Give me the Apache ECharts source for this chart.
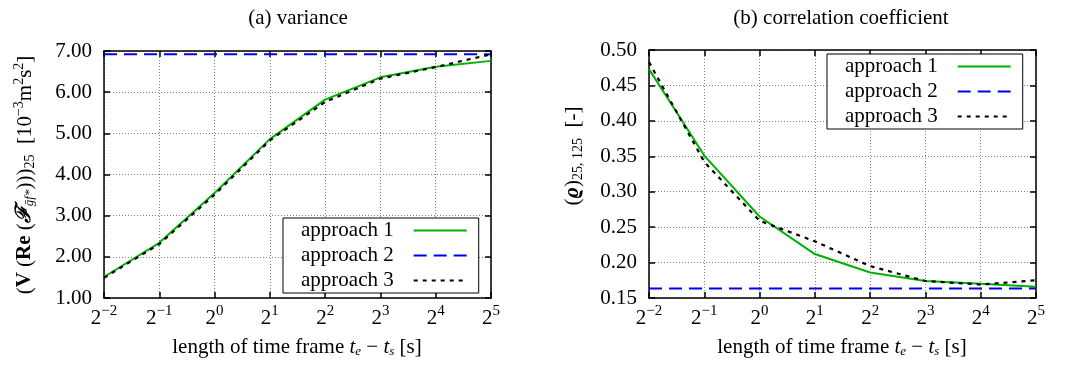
<!DOCTYPE html>
<html>
<head>
<meta charset="utf-8">
<script src="https://cdn.jsdelivr.net/npm/echarts@6/dist/echarts.min.js"></script>
<style>
  html, body { margin: 0; padding: 0; background: #fff; }
  #chart { width: 1070px; height: 365px; }
</style>
</head>
<body>
<div id="chart"></div>
<script>
// Length of the time frame t_e - t_s in seconds (powers of two)
const timeFrame = [0.25, 0.5, 1, 2, 4, 8, 16, 32];
const seriesNames = ['approach 1', 'approach 2', 'approach 3'];

// (a) variance [10^-3 m^2 s^2]
const varianceApproach1 = [1.51, 2.34, 3.55, 4.86, 5.82, 6.36, 6.62, 6.76];
const varianceApproach2 = [6.92, 6.92, 6.92, 6.92, 6.92, 6.92, 6.92, 6.92];
const varianceApproach3 = [1.49, 2.31, 3.51, 4.83, 5.76, 6.33, 6.61, 6.92];

// (b) correlation coefficient [-]
const corrApproach1 = [0.473, 0.351, 0.265, 0.212, 0.186, 0.174, 0.170, 0.166];
const corrApproach2 = [0.1635, 0.1635, 0.1635, 0.1635, 0.1635, 0.1635, 0.1635, 0.1635];
const corrApproach3 = [0.483, 0.342, 0.259, 0.230, 0.195, 0.174, 0.169, 0.175];

// Axis ranges
const varianceRange = { min: 1, max: 7, step: 1 };
const corrRange = { min: 0.15, max: 0.5, step: 0.05 };
const timeRange = { min: 0.25, max: 32 };

const FONT = "'Liberation Serif', 'DejaVu Serif', serif";
const FS = 21;
const GREEN = '#00b000';
const BLUE = '#0000ee';
const BLACK = '#000000';

const chart = echarts.init(document.getElementById('chart'));

const frameLine = { color: '#000', width: 1.5 };
const gridDots = { color: '#808080', width: 1, type: [1, 2] };

const supRich = {
  b: { fontSize: FS, fontFamily: FONT, color: '#000' },
  s: { fontSize: 15, fontFamily: FONT, color: '#000', padding: [0, 0, 14, 0] }
};

function powerLabel(v) {
  const e = Math.round(Math.log2(v));
  return '{b|2}{s|' + (e < 0 ? '\u2212' + (-e) : e) + '}';
}

function xAxes(gridIndex) {
  return [
    {
      gridIndex, type: 'log', logBase: 2, min: timeRange.min, max: timeRange.max,
      axisLine: { show: true, lineStyle: frameLine },
      axisTick: { show: true, inside: true, length: 6, lineStyle: frameLine },
      axisLabel: { formatter: powerLabel, rich: supRich, margin: 6, color: '#000' },
      splitLine: { show: true, lineStyle: gridDots },
      minorTick: { show: false }, minorSplitLine: { show: false }
    },
    {
      gridIndex, type: 'log', logBase: 2, min: timeRange.min, max: timeRange.max, position: 'top',
      axisLine: { show: true, lineStyle: frameLine },
      axisTick: { show: true, inside: true, length: 6, lineStyle: frameLine },
      axisLabel: { show: false }, splitLine: { show: false }
    }
  ];
}

function yAxes(gridIndex, range, digits) {
  return [
    {
      gridIndex, type: 'value', min: range.min, max: range.max, interval: range.step,
      axisLine: { show: true, lineStyle: frameLine },
      axisTick: { show: true, inside: true, length: 6, lineStyle: frameLine },
      axisLabel: { formatter: v => v.toFixed(digits), margin: 12, fontSize: FS, fontFamily: FONT, color: '#000' },
      splitLine: { show: true, lineStyle: gridDots }
    },
    {
      gridIndex, type: 'value', min: range.min, max: range.max, interval: range.step, position: 'right',
      axisLine: { show: true, lineStyle: frameLine },
      axisTick: { show: true, inside: true, length: 6, lineStyle: frameLine },
      axisLabel: { show: false }, splitLine: { show: false }
    }
  ];
}

function lineSeries(name, xIdx, yIdx, values, color, width, type) {
  return {
    type: 'line', name, xAxisIndex: xIdx, yAxisIndex: yIdx,
    data: timeFrame.map((t, i) => [t, values[i]]),
    symbol: 'none', showSymbol: false, color,
    lineStyle: { color, width, type },
    itemStyle: { color },
    emphasis: { disabled: true }
  };
}

function legendBox(left, top) {
  return {
    data: seriesNames, orient: 'vertical', left, top, align: 'right',
    itemWidth: 53, itemHeight: 14, itemGap: 0,
    padding: [0, 11, 0, 18],
    borderColor: '#000', borderWidth: 1, borderRadius: 0, backgroundColor: '#fff',
    // line sample only, no marker on it
    itemStyle: { color: 'rgba(0,0,0,0)', borderWidth: 0, opacity: 0 },
    textStyle: { fontSize: FS, fontFamily: FONT, color: '#000', lineHeight: 25, padding: [0, 15, 0, 0] },
    selectedMode: false
  };
}

const textRich = {
  bf: { fontSize: FS, fontFamily: FONT, fontWeight: 'bold', fill: '#000' },
  bfi: { fontSize: FS, fontFamily: FONT, fontWeight: 'bold', fontStyle: 'italic', fill: '#000' },
  i: { fontSize: FS, fontFamily: FONT, fontStyle: 'italic', fill: '#000' },
  sub: { fontSize: 14, fontFamily: FONT, fill: '#000', padding: [10, 0, 0, 0] },
  subi: { fontSize: 13, fontFamily: FONT, fontStyle: 'italic', fill: '#000', padding: [10, 0, 0, 0] },
  sup: { fontSize: 14, fontFamily: FONT, fill: '#000', padding: [0, 0, 12, 0] }
};

function label(x, y, text, rotation) {
  return {
    type: 'text', x, y, rotation: rotation || 0, silent: true,
    style: {
      text, rich: textRich, fontSize: FS, fontFamily: FONT, fill: '#000',
      align: 'center', verticalAlign: 'middle'
    }
  };
}

const option = {
  animation: false,
  backgroundColor: '#fff',
  grid: [
    { left: 104, top: 51, width: 387, height: 247 },
    { left: 649, top: 50, width: 387, height: 248 }
  ],
  xAxis: [...xAxes(0), ...xAxes(1)],
  yAxis: [...yAxes(0, varianceRange, 2), ...yAxes(1, corrRange, 2)],
  legend: [legendBox(283, 218), legendBox(827, 54)],
  series: [
    lineSeries(seriesNames[0], 0, 0, varianceApproach1, GREEN, 2, 'solid'),
    lineSeries(seriesNames[1], 0, 0, varianceApproach2, BLUE, 2, [13, 7]),
    lineSeries(seriesNames[2], 0, 0, varianceApproach3, BLACK, 2.2, [4, 5]),
    lineSeries(seriesNames[0], 2, 2, corrApproach1, GREEN, 2, 'solid'),
    lineSeries(seriesNames[1], 2, 2, corrApproach2, BLUE, 2, [13, 7]),
    lineSeries(seriesNames[2], 2, 2, corrApproach3, BLACK, 2.2, [4, 5])
  ],
  graphic: {
    elements: [
      label(298, 18, '(a) variance'),
      label(841, 18, '(b) correlation coefficient'),
      label(297, 347, 'length of time frame {i|t}{subi|e} \u2212 {i|t}{subi|s} [s]'),
      label(842, 347, 'length of time frame {i|t}{subi|e} \u2212 {i|t}{subi|s} [s]'),
      label(25, 175, '({bf|V} ({bf|Re} ({bfi|\u2131}{subi|\u1e21f*}))){sub|25}  [10{sup|\u22123}m{sup|2}s{sup|2}]', Math.PI / 2),
      label(573, 156, '({bfi|\u03f1}){sub|25, 125}  [-]', Math.PI / 2)
    ]
  }
};

chart.setOption(option);
</script>
</body>
</html>
